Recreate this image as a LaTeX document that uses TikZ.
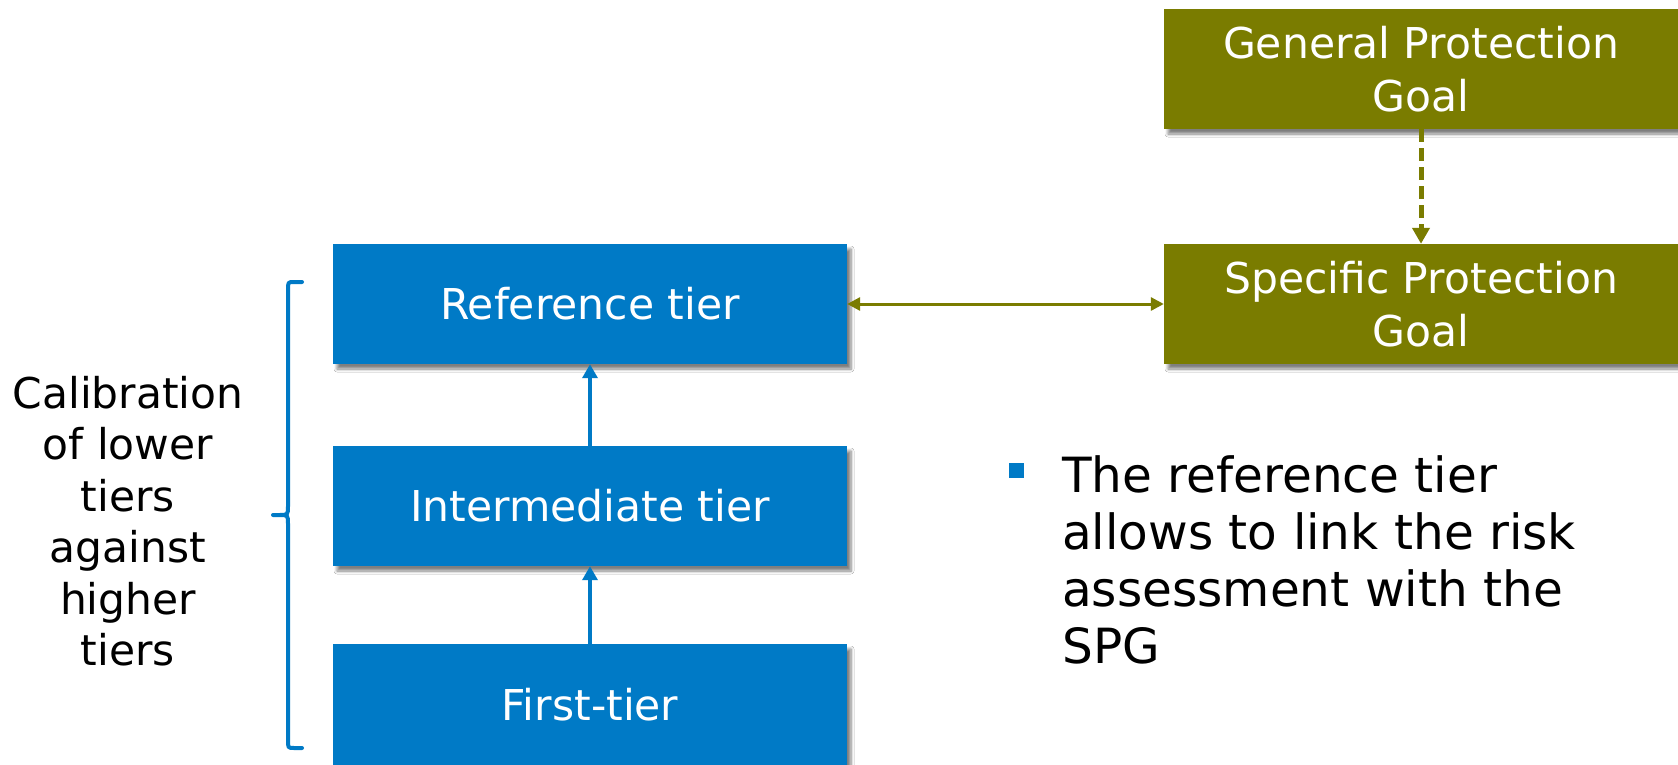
\documentclass[tikz,border=0pt]{standalone}
\usepackage{fontspec}
\setmainfont{DejaVu Sans}
\usetikzlibrary{arrows.meta,shadows.blur}

\definecolor{tierblue}{RGB}{0,122,198}
\definecolor{goalolive}{RGB}{122,124,0}

\tikzset{
  boxbase/.style={rectangle, minimum width=514pt, minimum height=120pt, inner sep=0pt,
    text=white, align=center, font=\fontsize{42.5}{52.5}\selectfont,
    blur shadow={shadow xshift=4pt, shadow yshift=-5pt, shadow blur radius=3pt,
      shadow blur steps=6, shadow opacity=50}},
  tierbox/.style={boxbase, fill=tierblue},
  goalbox/.style={boxbase, fill=goalolive},
  uparrow/.style={draw=tierblue, line width=4pt, -{Triangle[length=14pt, width=15pt]}},
  linkarrow/.style={draw=goalolive, line width=3pt,
    {Triangle[length=13pt, width=13pt]}-{Triangle[length=13pt, width=13pt]}},
  dasharrow/.style={draw=goalolive, line width=5pt, dash pattern=on 13pt off 6pt,
    -{Triangle[length=16pt, width=17pt]}},
  plaintext/.style={inner sep=0pt, text=black, align=center},
}

\begin{document}
\begin{tikzpicture}[x=1pt, y=-1pt]
  \useasboundingbox[fill=white] (0,0) rectangle (1678,765);

  % tier boxes
  \node[tierbox] (ref)   at (590,304) {Reference tier};
  \node[tierbox] (inter) at (590,506) {Intermediate tier};
  \node[tierbox, minimum height=122pt] (first) at (590,705) {First-tier};

  % protection goal boxes
  \node[goalbox] (gpg) at (1421,69)  {General Protection\\Goal};
  \node[goalbox] (spg) at (1421,304) {Specific Protection\\Goal};

  % connectors
  \draw[uparrow] (first.north) -- (inter.south);
  \draw[uparrow] (inter.north) -- (ref.south);
  \draw[linkarrow] (ref.east) -- (spg.west);
  \draw[dasharrow] (gpg.south) -- (spg.north);

  % brace grouping the tiers
  \draw[tierblue, line width=4pt, line cap=round, line join=round]
    (302,282) -- (294,282) .. controls (288,282) .. (288,290)
    -- (288,506) .. controls (288,515) .. (279,515) -- (273,515)
    (279,515) .. controls (288,515) .. (288,524)
    -- (288,740) .. controls (288,748) .. (294,748) -- (302,748);

  \node[plaintext, font=\fontsize{42.4}{51.5}\selectfont] (calib) at (128,521)
    {Calibration\\of lower\\tiers\\against\\higher\\tiers};

  % bullet note
  \node[fill=tierblue, minimum size=15pt, inner sep=0pt] (bullet) at (1016.5,470.5) {};
  \node[inner sep=0pt, anchor=north west, align=left,
        font=\fontsize{48.5}{57.3}\selectfont] (note) at (1062,455)
    {The reference tier\\allows to link the risk\\assessment with the\\SPG};
\end{tikzpicture}
\end{document}
